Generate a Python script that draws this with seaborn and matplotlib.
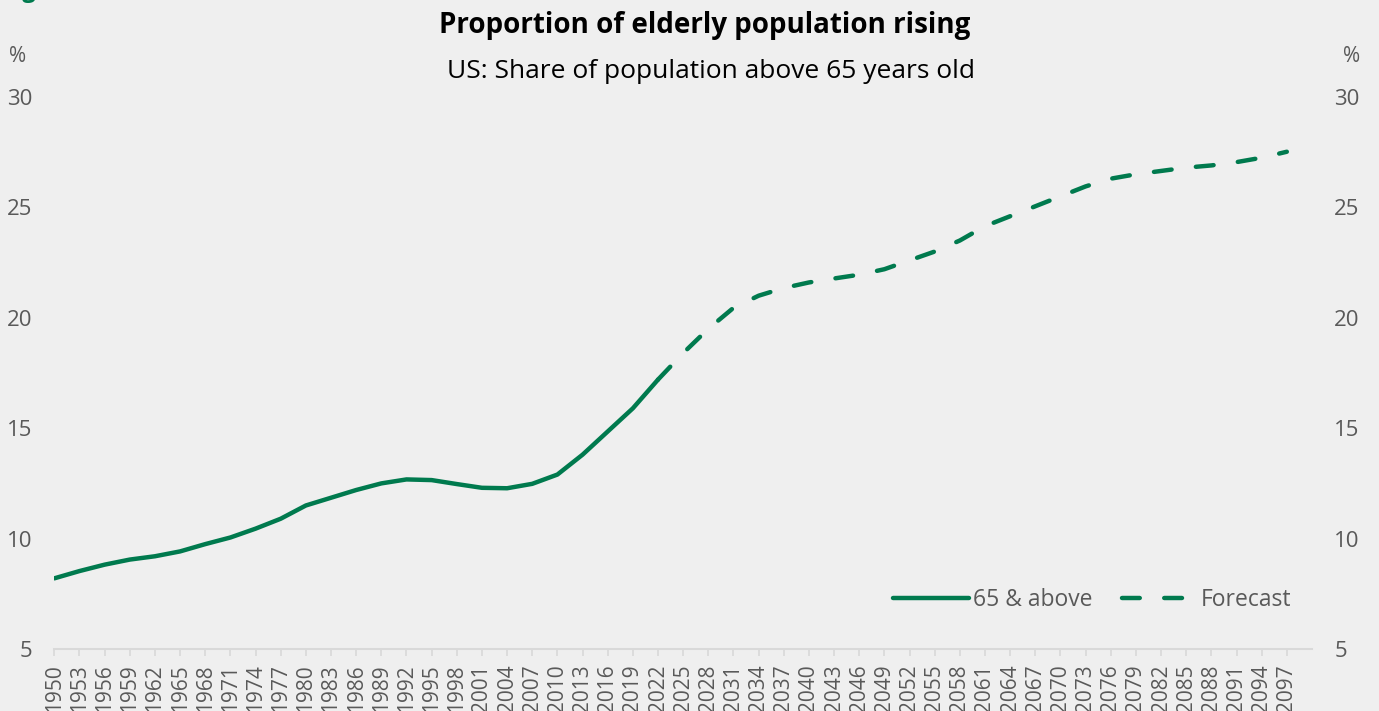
import matplotlib
matplotlib.use("Agg")
import matplotlib.pyplot as plt
import seaborn as sns
import pandas as pd
from matplotlib.lines import Line2D

# ---- data ----
hist_years = list(range(1950, 2023, 3))
hist_values = [8.2, 8.53, 8.82, 9.05, 9.2, 9.42, 9.75, 10.05, 10.45, 10.9, 11.5, 11.85,
               12.2, 12.5, 12.68, 12.65, 12.47, 12.3, 12.28, 12.48, 12.9, 13.8, 14.85,
               15.9, 17.2]
fc_years = list(range(2022, 2098, 3))
fc_values = [17.2, 18.4, 19.5, 20.45, 21.0, 21.35, 21.6, 21.78, 21.95, 22.2, 22.6, 23.0,
             23.5, 24.15, 24.6, 25.05, 25.5, 25.95, 26.3, 26.5, 26.65, 26.8, 26.9, 27.05,
             27.25, 27.52]
tick_years = list(range(1950, 2098, 3))
y_ticks = [5, 10, 15, 20, 25, 30]
title = "Proportion of elderly population rising"
subtitle = "US: Share of population above 65 years old"
series_names = ["65 & above", "Forecast"]

GREEN = "#007A4E"
BG = "#EFEFEF"
TXT = "#595959"
AXC = "#D9D9D9"

sns.set_theme(style="white")
plt.rcParams["font.family"] = ["Open Sans", "DejaVu Sans"]

fig = plt.figure(figsize=(13.79, 7.11), dpi=100, facecolor=BG)
ax = fig.add_axes([0.0394, 0.0872, 0.9120, 0.7764])
ax.set_facecolor(BG)

hist = pd.DataFrame({"year": hist_years, "value": hist_values})
fc = pd.DataFrame({"year": fc_years, "value": fc_values})

LW = 3.2
sns.lineplot(data=hist, x="year", y="value", ax=ax, color=GREEN, linewidth=LW,
             solid_capstyle="round", solid_joinstyle="round", legend=False)
sns.lineplot(data=fc, x="year", y="value", ax=ax, color=GREEN, linewidth=LW,
             legend=False)
fc_line = ax.get_lines()[-1]
fc_line.set_dashes((4, 5.5))
fc_line.set_dash_capstyle("round")
fc_line.set_dash_joinstyle("round")

ax.set_xlim(1950, 2100)
ax.set_ylim(5, 30)
ax.set_xlabel("")
ax.set_ylabel("")

ax.set_xticks(tick_years)
ax.set_xticklabels([str(y) for y in tick_years], rotation=90, fontsize=15, color=TXT)
ax.tick_params(axis="x", length=5, width=1.2, color=AXC, pad=6, bottom=True)

ax.set_yticks(y_ticks)
ax.set_yticklabels([str(v) for v in y_ticks], fontsize=16, color=TXT)
ax.tick_params(axis="y", length=0, pad=16, labelleft=True, labelright=True)

for s in ["left", "right", "top"]:
    ax.spines[s].set_visible(False)
ax.spines["bottom"].set_color(AXC)
ax.spines["bottom"].set_linewidth(1.5)
ax.grid(False)

# % unit labels
fig.text(18 / 1379, 1 - 57 / 711, "%", ha="center", va="center", fontsize=15, color=TXT)
fig.text(1352 / 1379, 1 - 57 / 711, "%", ha="center", va="center", fontsize=15, color=TXT)

# titles
fig.text(705 / 1379, 1 - 25 / 711, title, ha="center", va="center", fontsize=20,
         fontweight="bold", color="black")
fig.text(711 / 1379, 1 - 72 / 711, subtitle, ha="center", va="center", fontsize=19,
         color="black")

# cut-off figure label at top-left (partially visible in the reference)
fig.text(0.002, 1.0 + 3 / 711, "Fig", ha="left", va="baseline", fontsize=17,
         fontweight="bold", color=GREEN)

handles = [Line2D([0], [0], color=GREEN, linewidth=LW, solid_capstyle="round"),
           Line2D([0], [0], color=GREEN, linewidth=LW, dashes=(4, 5.5),
                  dash_capstyle="round")]
leg = ax.legend(handles, series_names, loc="lower right", bbox_to_anchor=(1.0, 0.03),
                ncol=2, frameon=False, fontsize=16.5, handlelength=3.3, handletextpad=0.15,
                columnspacing=1.3, labelcolor=TXT)

fig.savefig("out.png", dpi=100, facecolor=BG)
